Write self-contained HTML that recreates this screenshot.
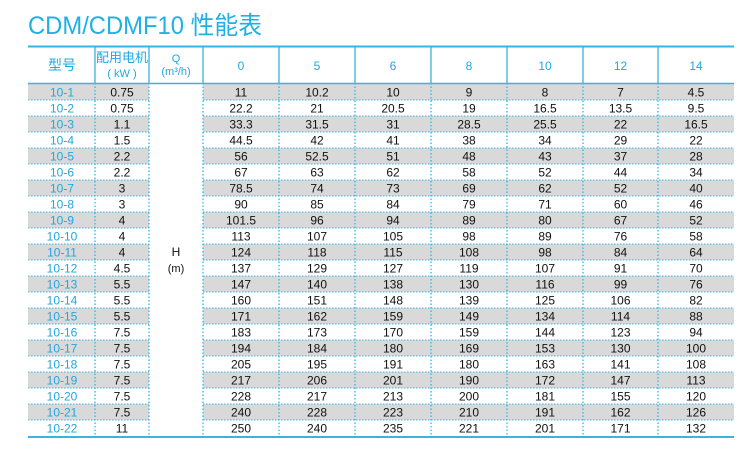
<!DOCTYPE html>
<html><head><meta charset="utf-8"><style>
html,body{margin:0;padding:0;background:#fff;width:750px;height:460px;overflow:hidden}
</style></head><body>
<svg width="750" height="460" xmlns="http://www.w3.org/2000/svg" font-family="Liberation Sans, Noto Sans CJK SC, sans-serif">
<text x="28" y="34" font-size="25" fill="#1fb0e6" textLength="234" lengthAdjust="spacingAndGlyphs">CDM/CDMF10 性能表</text>
</svg>
<script>
const svg=document.querySelector('svg');const NS='http://www.w3.org/2000/svg';
function el(t,a,txt){const e=document.createElementNS(NS,t);for(const k in a)e.setAttribute(k,a[k]);if(txt!=null)e.textContent=txt;svg.appendChild(e);return e;}
const xs=[28,95,149,203,279,355,431,507,583,658,734];
const kw=["0.75","0.75","1.1","1.5","2.2","2.2","3","3","4","4","4","4.5","5.5","5.5","5.5","7.5","7.5","7.5","7.5","7.5","7.5","11"];
const d=[[11,10.2,10,9,8,7,4.5],[22.2,21,20.5,19,16.5,13.5,9.5],[33.3,31.5,31,28.5,25.5,22,16.5],[44.5,42,41,38,34,29,22],[56,52.5,51,48,43,37,28],[67,63,62,58,52,44,34],[78.5,74,73,69,62,52,40],[90,85,84,79,71,60,46],[101.5,96,94,89,80,67,52],[113,107,105,98,89,76,58],[124,118,115,108,98,84,64],[137,129,127,119,107,91,70],[147,140,138,130,116,99,76],[160,151,148,139,125,106,82],[171,162,159,149,134,114,88],[183,173,170,159,144,123,94],[194,184,180,169,153,130,100],[205,195,191,180,163,141,108],[217,206,201,190,172,147,113],[228,217,213,200,181,155,120],[240,228,223,210,191,162,126],[250,240,235,221,201,171,132]];
const top0=84,rh=16;
for(let i=0;i<22;i++){const y=top0+i*rh;
 if(i%2==0){el('rect',{x:28,y:y,width:121,height:rh,fill:'#d9d9d9'});el('rect',{x:203,y:y,width:531,height:rh,fill:'#d9d9d9'});}
 if(i>0){el('line',{x1:28,y1:y,x2:149,y2:y,stroke:'#36b4e3','stroke-width':1,'stroke-dasharray':'1.5,1.5'});el('line',{x1:203,y1:y,x2:734,y2:y,stroke:'#36b4e3','stroke-width':1,'stroke-dasharray':'1.5,1.5'});}
 const ty=y+12.5;
 el('text',{x:62,y:ty,'font-size':12,'text-anchor':'middle',fill:'#1fa8e0'},'10-'+(i+1));
 el('text',{x:122,y:ty,'font-size':12,'text-anchor':'middle',fill:'#111'},kw[i]);
 for(let j=0;j<7;j++)el('text',{x:(xs[j+3]+xs[j+4])/2,y:ty,'font-size':12,'text-anchor':'middle',fill:'#111'},String(d[i][j]));
}
const bot=top0+22*rh;
for(let k=1;k<10;k++){el('line',{x1:xs[k],y1:46,x2:xs[k],y2:83,stroke:'#36b4e3','stroke-width':1.3});
 el('line',{x1:xs[k],y1:83,x2:xs[k],y2:bot,stroke:'#36b4e3','stroke-width':1.3,'stroke-dasharray':'1.5,2'});}
el('line',{x1:28,y1:46.5,x2:734,y2:46.5,stroke:'#36b4e3','stroke-width':2});
el('line',{x1:28,y1:83.5,x2:734,y2:83.5,stroke:'#36b4e3','stroke-width':1.5});
el('line',{x1:28,y1:bot+1,x2:734,y2:bot+1,stroke:'#36b4e3','stroke-width':2});
const hc='#1fa8e0';
el('text',{x:62,y:70,'font-size':14,'text-anchor':'middle',fill:hc},'型号');
el('text',{x:122,y:62,'font-size':13,'text-anchor':'middle',fill:hc},'配用电机');
el('text',{x:122,y:77,'font-size':11,'text-anchor':'middle',fill:hc},'( kW )');
el('text',{x:176,y:62,'font-size':11,'text-anchor':'middle',fill:hc},'Q');
el('text',{x:176,y:75,'font-size':11,'text-anchor':'middle',fill:hc},'(m³/h)');
const qs=[0,5,6,8,10,12,14];
for(let j=0;j<7;j++)el('text',{x:(xs[j+3]+xs[j+4])/2,y:70,'font-size':12,'text-anchor':'middle',fill:hc},String(qs[j]));
el('text',{x:176,y:256,'font-size':12,'text-anchor':'middle',fill:'#111'},'H');
el('text',{x:176,y:272,'font-size':11,'text-anchor':'middle',fill:'#111'},'(m)');
</script>
</body></html>
